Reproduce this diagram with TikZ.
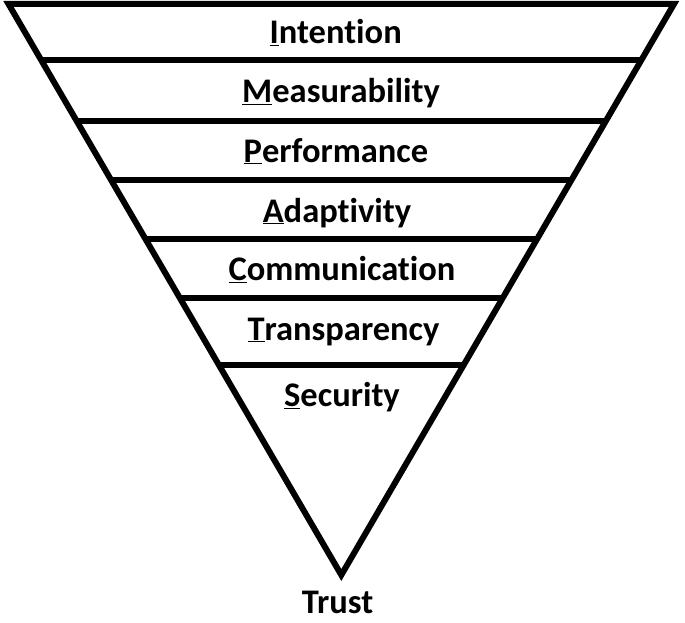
\documentclass[tikz,border=0pt]{standalone}
\usepackage{fontspec}
\setmainfont{Carlito}[RawFeature={-liga;-clig}]
\usetikzlibrary{calc}

\begin{document}
\begin{tikzpicture}[
  x=1pt, y=-1pt,
  funnel/.style={draw, line width=6pt, line join=miter},
  divider/.style={draw, line width=6pt},
  level/.style={anchor=base, inner sep=0pt, font=\fontsize{34.5}{40}\selectfont\bfseries}
]
\useasboundingbox (0,0) rectangle (685,623);
\coordinate (tl) at (8.5,4);
\coordinate (tr) at (674,4);
\coordinate (tip) at (341.3,575);
\draw[funnel] (tl) -- (tr) -- (tip) -- cycle;
% dividers between the levels
\foreach \y [count=\i] in {60.5,121,180,239.5,298.5,365.5} {
  \coordinate (l\i) at ($(tl)!{(\y-4)/571}!(tip)$);
  \coordinate (r\i) at ($(tr)!{(\y-4)/571}!(tip)$);
  \draw[divider] (l\i) -- (r\i);
}
\node[level] (intention) at (335.7,43.7) {\underline{I}ntention};
\node[level] (measure) at (341,102.5) {\underline{M}easurability};
\node[level] (perform) at (336,162) {\underline{P}erformance};
\node[level] (adapt) at (337,222) {\underline{A}daptivity};
\node[level] (comm) at (342,280.5) {\underline{C}ommunication};
\node[level] (transp) at (343.5,340) {\underline{T}ransparency};
\node[level] (secure) at (342,406.5) {\underline{S}ecurity};
\node[level] (trust) at (337.6,613) {Trust};
\end{tikzpicture}
\end{document}
